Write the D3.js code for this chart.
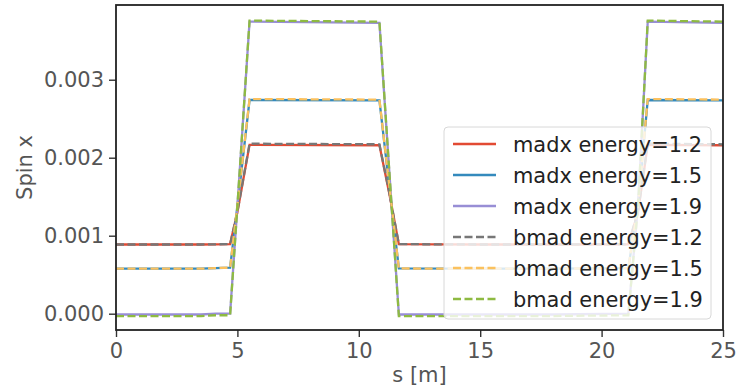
<!DOCTYPE html>
<html>
<head>
<meta charset="utf-8">
<script src="https://cdn.jsdelivr.net/npm/d3@7"></script>
<style>
  body { margin: 0; background: #fff; }
  text { font-family: "DejaVu Sans", sans-serif; }
</style>
</head>
<body>
<svg id="chart" width="743" height="389"></svg>
<script>
// sample positions along the lattice [m]
const S = [0, 3.5, 4.1, 4.7, 5.0, 5.5, 10.85, 11.25, 11.65, 15, 18, 21.1, 21.5, 21.9, 25];

// spin x per energy (madx solid, bmad dashed)
const madx12 = [0.000887, 0.000887, 0.00089, 0.000892, 0.0013, 0.002165, 0.00216, 0.00155, 0.000892, 0.000887, 0.000887, 0.00089, 0.0013, 0.002165, 0.00216];
const madx15 = [0.000577, 0.000577, 0.000585, 0.00059, 0.00138, 0.00274, 0.002735, 0.00165, 0.00058, 0.000577, 0.000577, 0.000585, 0.00138, 0.00274, 0.002735];
const madx19 = [-0.00001, -0.00001, 0.0, 0.0, 0.00138, 0.003745, 0.003728, 0.00185, -0.00001, -0.00001, -0.00001, 0.0, 0.00138, 0.003745, 0.003728];
const bmad12 = [0.000887, 0.000887, 0.00089, 0.000892, 0.00131, 0.00218, 0.002172, 0.00156, 0.000892, 0.000887, 0.000887, 0.00089, 0.00131, 0.00218, 0.002172];
const bmad15 = [0.000577, 0.000577, 0.000585, 0.00059, 0.00139, 0.002752, 0.002745, 0.00166, 0.00058, 0.000577, 0.000577, 0.000585, 0.00139, 0.002752, 0.002745];
const bmad19 = [-0.00003, -0.00003, -0.00002, -0.00002, 0.00138, 0.003758, 0.003745, 0.00186, -0.00003, -0.00003, -0.00003, -0.00002, 0.00138, 0.003758, 0.003745];

const labels = ["madx energy=1.2", "madx energy=1.5", "madx energy=1.9",
                "bmad energy=1.2", "bmad energy=1.5", "bmad energy=1.9"];
const seriesValues = [madx12, madx15, madx19, bmad12, bmad15, bmad19];
const colors = ["#E24A33", "#348ABD", "#988ED5", "#777777", "#FBC15E", "#8EBA42"];
const xTicks = [0, 5, 10, 15, 20, 25];
const yTicks = [0, 0.001, 0.002, 0.003];

const margin = { left: 116, right: 20, top: 5, bottom: 59 };
const width = 743, height = 389;

const svg = d3.select("#chart");
const x = d3.scaleLinear().domain([0, 25]).range([margin.left, width - margin.right]);
const y = d3.scaleLinear().domain([-0.000209, 0.003958]).range([height - margin.bottom, margin.top]);

const line = d3.line()
  .x(d => x(d[0]))
  .y(d => y(d[1]));

const series = labels.map((name, i) => ({
  name,
  color: colors[i],
  dashed: i >= 3,
  points: S.map((s, j) => [s, seriesValues[i][j]])
}));

// clip to axes
svg.append("clipPath").attr("id", "clip")
  .append("rect")
  .attr("x", x(0)).attr("y", y.range()[1])
  .attr("width", x(25) - x(0)).attr("height", y.range()[0] - y.range()[1]);

svg.append("g")
  .attr("clip-path", "url(#clip)")
  .selectAll("path")
  .data(series)
  .enter()
  .append("path")
  .attr("d", d => line(d.points))
  .attr("fill", "none")
  .attr("stroke", d => d.color)
  .attr("stroke-width", 2.3)
  .attr("stroke-dasharray", d => d.dashed ? "8,3.5" : null);

// axes
const xAxis = svg.append("g")
  .attr("transform", `translate(0,${y.range()[0]})`)
  .call(d3.axisBottom(x).tickValues(xTicks).tickSize(7).tickPadding(6).tickFormat(d3.format("d")));
const yAxis = svg.append("g")
  .attr("transform", `translate(${x(0)},0)`)
  .call(d3.axisLeft(y).tickValues(yTicks).tickSize(7).tickPadding(5).tickFormat(d3.format(".3f")));

[xAxis, yAxis].forEach(g => {
  g.select(".domain").remove();
  g.selectAll(".tick line").attr("stroke", "#333").attr("stroke-width", 1.4);
  g.selectAll(".tick text")
    .attr("fill", "#555")
    .style("font-size", "21px")
    .style("font-family", "DejaVu Sans");
});

// frame
svg.append("rect")
  .attr("x", x(0)).attr("y", y.range()[1])
  .attr("width", x(25) - x(0)).attr("height", y.range()[0] - y.range()[1])
  .attr("fill", "none")
  .attr("stroke", "#222")
  .attr("stroke-width", 1.8);

// axis labels
svg.append("text")
  .attr("x", (x(0) + x(25)) / 2)
  .attr("y", 382)
  .attr("text-anchor", "middle")
  .attr("fill", "#555")
  .style("font-size", "21px")
  .text("s [m]");

svg.append("text")
  .attr("transform", `translate(32,${(y.range()[0] + y.range()[1]) / 2}) rotate(-90)`)
  .attr("text-anchor", "middle")
  .attr("fill", "#555")
  .style("font-size", "21px")
  .text("Spin x");

// legend
const legend = svg.append("g").attr("transform", "translate(444,127)");
legend.append("rect")
  .attr("width", 267).attr("height", 192)
  .attr("rx", 4).attr("ry", 4)
  .attr("fill", "#fff").attr("fill-opacity", 0.8)
  .attr("stroke", "#d8d8d8").attr("stroke-width", 1);

const rows = legend.selectAll("g.row")
  .data(series)
  .enter()
  .append("g")
  .attr("class", "row")
  .attr("transform", (d, i) => `translate(0,${25 + i * 31})`);

rows.append("line")
  .attr("x1", 9).attr("x2", 52)
  .attr("y1", -8).attr("y2", -8)
  .attr("stroke", d => d.color)
  .attr("stroke-width", 2.3)
  .attr("stroke-dasharray", d => d.dashed ? "8,3.5" : null);

rows.append("text")
  .attr("x", 69)
  .attr("y", 0)
  .attr("fill", "#222")
  .style("font-size", "20.9px")
  .text(d => d.name);
</script>
</body>
</html>
